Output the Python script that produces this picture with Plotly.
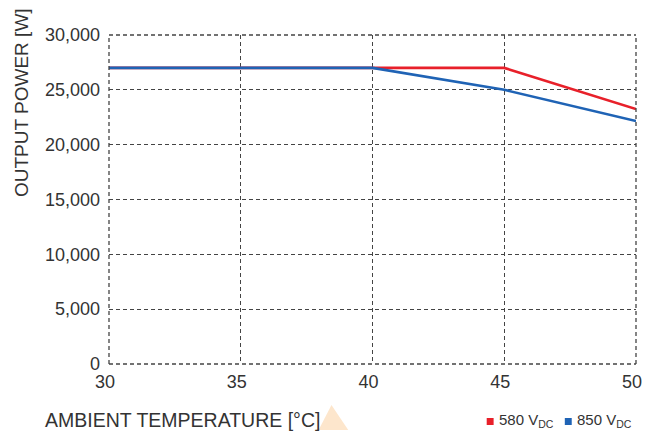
import plotly.graph_objects as go

temps = [30, 35, 40, 45, 50]
power_580 = [27000, 27000, 27000, 27000, 23250]
power_850 = [27000, 27000, 27000, 25000, 22150]
series_names = ["580 V<sub>DC</sub>", "850 V<sub>DC</sub>"]
x_ticks = [30, 35, 40, 45, 50]
y_ticks = [0, 5000, 10000, 15000, 20000, 25000, 30000]
y_tick_labels = ["0", "5,000", "10,000", "15,000", "20,000", "25,000", "30,000"]

RED = "#e8202a"
BLUE = "#1f63b5"
GRID = "#444444"
TXT = "#333333"
FONT = "Liberation Sans, Arial, sans-serif"
DASH = "4px,3px"

# the page body adds an 8px margin on every side, so the figure is sized to fit the window
OFF = 8
W, H = 658 - 2 * OFF, 439 - 2 * OFF
L, R, T, B = 109 - OFF, W - (642 - OFF), 35 - OFF, H - (364 - OFF)
PW, PH = W - L - R, H - T - B


def px(x):
    return (x - OFF - L) / PW


def py(y):
    return (H - B - (y - OFF)) / PH


fig = go.Figure()
fig.add_trace(go.Scatter(x=temps, y=power_580, mode="lines", name=series_names[0],
                         line=dict(color=RED, width=2.6), showlegend=False))
fig.add_trace(go.Scatter(x=temps, y=power_850, mode="lines", name=series_names[1],
                         line=dict(color=BLUE, width=2.6), showlegend=False))

grid = dict(showgrid=True, gridcolor=GRID, griddash=DASH, gridwidth=1.3,
            zeroline=False, showline=False, ticks="")
fig.update_xaxes(range=[30, 50], tickvals=x_ticks, ticklabelstandoff=5,
                 ticklabelshift=-4, **grid,
                 tickfont=dict(size=18, color=TXT, family=FONT))
fig.update_yaxes(range=[0, 30000], tickvals=y_ticks, ticktext=y_tick_labels,
                 ticklabelstandoff=8, **grid,
                 tickfont=dict(size=18, color=TXT, family=FONT))

# dashed frame (grid lines at the range edges)
for x0, y0, x1, y1 in [(0, 0, 1, 0), (0, 1, 1, 1), (0, 0, 0, 1), (1, 0, 1, 1)]:
    fig.add_shape(type="line", xref="paper", yref="paper", x0=x0, y0=y0, x1=x1, y1=y1,
                  line=dict(color=GRID, width=1.3, dash=DASH))

# faint watermark fragment near the bottom (kept inside the figure)
fig.add_shape(type="path", xref="paper", yref="paper", layer="below",
              path=f"M {px(321)},{py(430)} L {px(334)},{py(405)} L {px(351)},{py(430)} Z",
              fillcolor="#fde6cc", line=dict(width=0))

fig.add_annotation(text="OUTPUT POWER [W]", textangle=-90, xref="paper", yref="paper",
                   x=px(20), y=py(103), xanchor="center", yanchor="middle", showarrow=False,
                   font=dict(size=19, color=TXT, family=FONT))
fig.add_annotation(text="AMBIENT TEMPERATURE [°C]", xref="paper", yref="paper",
                   x=px(42), y=py(420), xanchor="left", yanchor="middle", showarrow=False,
                   font=dict(size=19.5, color=TXT, family=FONT))

# legend: colour swatches and labels
for name, color, sq_left in [(series_names[0], RED, 491), (series_names[1], BLUE, 570)]:
    fig.add_shape(type="rect", xref="paper", yref="paper",
                  x0=px(sq_left), x1=px(sq_left + 7), y0=py(425), y1=py(418),
                  fillcolor=color, line=dict(width=0))
    fig.add_annotation(text=name, xref="paper", yref="paper",
                       x=px(sq_left + 10), y=py(420), xanchor="left", yanchor="middle",
                       showarrow=False, font=dict(size=15, color=TXT, family=FONT))

fig.update_layout(
    width=W, height=H,
    margin=dict(l=L, r=R, t=T, b=B),
    paper_bgcolor="white", plot_bgcolor="white",
    font=dict(family=FONT, color=TXT),
    showlegend=False,
)

fig.write_html("out.html")
